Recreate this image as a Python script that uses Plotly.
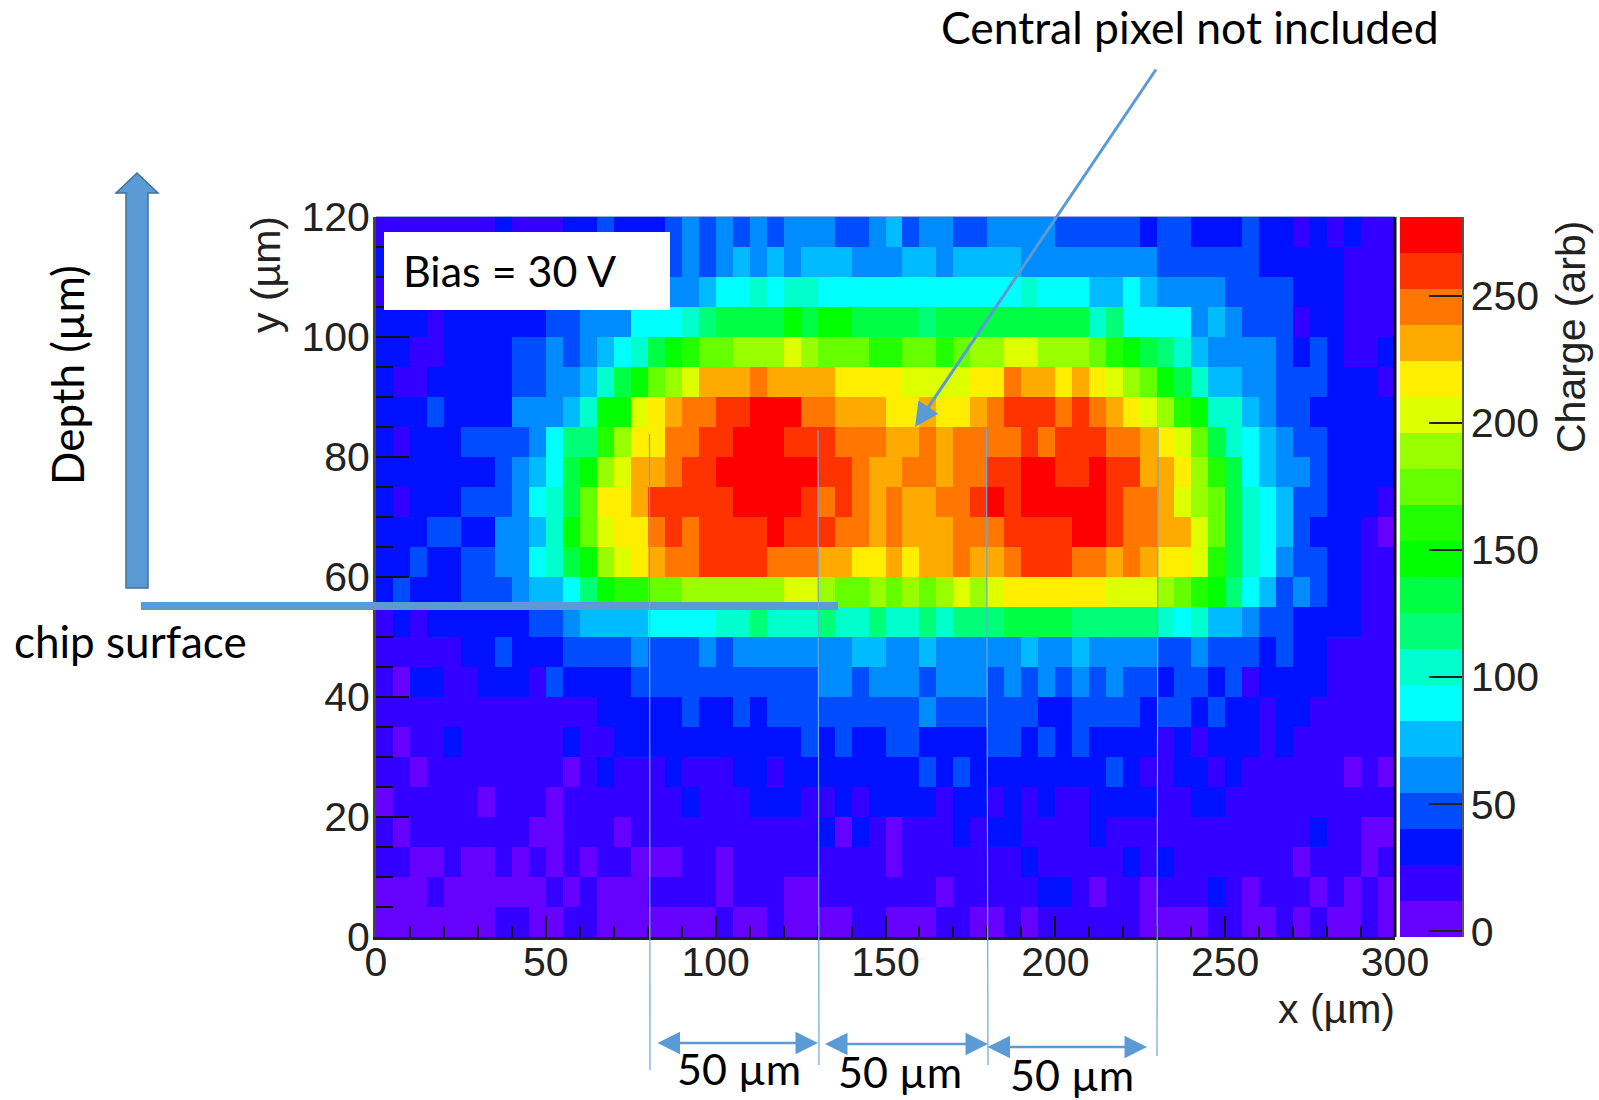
import plotly.graph_objects as go

# Colour band (0-19) of each 5 x 5 um bin. Rows are named by lower y edge, x runs 0..295.
band_y115 = [1,1,1,1,1,1,1,2,1,1,1,2,2,3,2,2,2,3,4,3,4,3,4,3,4,4,4,3,3,4, 5,3,4,4,3,3,4,4,4,4,3,3,3,3,3,2,3,3,2,2,2,3,2,2,1,2,1,2,1,1]
band_y110 = [2,2,2,2,2,2,2,2,2,2,2,3,3,3,3,3,3,3,4,3,4,5,4,5,4,5,5,5,4,4, 4,5,5,4,5,5,5,5,4,4,4,4,4,4,4,4,3,3,3,3,3,3,2,2,2,2,2,1,1,1]
band_y105 = [1,2,2,2,2,2,2,2,2,3,3,3,3,4,4,4,4,4,4,5,6,6,7,6,7,7,6,6,6,6, 6,6,6,6,6,6,6,6,7,6,6,6,5,5,6,5,4,4,4,4,3,3,3,3,2,2,2,1,1,1]
band_y100 = [2,2,2,1,2,2,2,2,2,2,3,3,4,4,4,6,6,6,7,8,9,9,9,9,10,9,10,10,9,9, 9,9,8,9,9,9,9,9,9,9,9,9,7,8,6,6,6,6,4,5,4,3,3,3,1,2,2,1,1,1]
band_y95 = [2,2,1,1,2,2,2,2,3,3,4,3,4,5,6,7,9,10,11,12,12,13,13,13,14,13,12,12,12,11, 11,12,12,11,12,13,13,14,14,13,13,13,12,11,10,9,8,7,5,4,4,4,4,3,2,3,2,1,1,2]
band_y90 = [2,1,1,2,2,2,2,2,3,3,4,4,5,7,9,10,12,13,14,16,16,16,17,16,16,16,16,15,15,15, 15,14,14,14,14,15,15,17,16,16,15,16,15,14,13,12,10,9,7,5,5,4,4,3,3,3,2,2,2,1]
band_y85 = [2,2,2,3,2,2,2,2,4,4,4,5,7,10,10,14,15,16,17,17,18,18,19,19,19,17,17,16,16,16, 15,15,16,15,15,16,17,18,18,18,17,18,17,16,15,14,13,11,10,7,7,5,4,3,3,2,2,2,2,2]
band_y80 = [2,1,2,2,2,3,3,3,3,4,6,8,8,11,13,15,15,17,17,18,18,19,19,19,18,18,18,17,17,17, 16,16,17,16,17,17,17,17,18,17,18,18,18,17,17,16,15,14,12,9,7,6,5,4,3,3,2,2,2,2]
band_y75 = [2,2,2,2,2,2,2,3,4,5,6,9,10,13,14,16,16,17,18,18,19,19,19,19,19,19,18,18,17,16, 16,17,17,16,17,17,18,18,19,19,18,18,19,18,18,16,16,15,13,11,9,6,5,4,4,3,2,2,2,2]
band_y70 = [2,1,2,2,2,3,3,3,4,6,7,9,12,15,15,16,18,18,18,18,18,19,19,19,19,18,17,18,17,16, 17,16,16,17,17,18,19,18,19,19,19,19,19,18,17,17,16,14,13,12,9,7,6,5,3,3,2,2,2,1]
band_y65 = [2,2,2,3,3,2,2,4,4,5,7,10,12,14,15,15,17,18,17,18,18,18,18,19,18,18,18,17,17,16, 17,16,16,16,17,17,17,18,18,18,18,19,19,18,17,17,16,16,14,12,9,7,6,5,3,2,2,2,1,0]
band_y60 = [2,2,3,2,2,3,3,4,4,6,7,9,10,13,14,15,16,17,17,18,18,18,18,17,17,17,16,16,15,15, 16,15,16,16,17,16,16,17,18,18,18,17,17,16,17,16,15,15,14,11,9,7,6,4,3,3,2,2,1,1]
band_y55 = [2,3,2,2,2,3,3,3,4,5,5,6,8,10,11,11,12,12,13,13,13,13,13,13,14,14,13,12,12,13, 12,13,12,13,14,13,14,15,15,15,15,15,15,14,14,14,13,12,11,10,8,6,5,3,4,3,2,2,1,1]
band_y50 = [1,2,1,2,2,2,2,2,2,3,3,4,5,5,5,5,6,6,6,6,7,7,8,7,7,7,8,7,7,8, 7,7,8,7,8,8,8,9,9,9,9,8,8,8,8,8,7,6,7,5,5,4,3,3,2,2,2,2,1,1]
band_y45 = [1,1,1,1,1,2,2,3,2,2,2,3,3,3,3,4,3,3,3,4,3,4,4,4,4,4,4,4,5,5, 4,4,5,4,4,4,4,4,5,4,4,5,4,4,4,4,3,3,4,3,3,3,2,3,2,2,1,1,1,1]
band_y40 = [1,0,2,2,1,1,2,2,2,1,3,2,2,2,2,3,3,3,3,3,3,3,3,3,3,3,4,4,3,4, 4,4,3,4,4,4,3,4,3,4,3,4,3,4,3,3,2,3,3,2,3,1,2,2,2,2,1,1,1,1]
band_y35 = [1,1,1,1,1,1,1,1,1,1,1,1,1,2,2,2,2,2,3,2,2,3,2,3,3,3,3,3,3,3, 3,3,4,3,3,3,3,3,3,2,2,3,3,3,3,2,3,3,2,3,2,2,1,2,2,1,1,1,1,1]
band_y30 = [1,0,1,1,2,1,1,1,1,1,1,2,1,1,2,2,2,2,2,2,2,2,2,2,2,3,2,3,2,2, 3,3,2,2,2,2,3,3,2,3,2,3,2,2,2,2,1,2,1,2,2,2,1,2,1,1,1,1,1,1]
band_y25 = [1,1,0,1,1,1,1,1,1,1,1,0,1,2,1,1,1,2,1,1,1,2,2,1,2,2,2,2,2,2, 2,2,3,2,3,2,2,2,2,2,2,2,2,3,2,1,1,2,2,1,2,1,1,1,1,1,1,0,1,0]
band_y20 = [0,1,1,1,1,1,0,1,1,1,0,1,1,1,1,1,1,1,2,1,1,1,2,2,2,1,1,2,1,2, 2,2,2,1,2,2,1,2,1,2,1,1,2,2,2,2,1,1,2,2,1,1,1,1,1,1,1,1,1,1]
band_y15 = [1,0,1,1,1,1,1,1,1,0,0,1,1,1,0,1,1,1,1,1,1,1,1,1,1,1,2,0,2,1, 0,1,1,1,2,1,2,2,1,1,1,1,2,1,1,1,1,1,1,1,1,1,1,1,1,2,1,1,0,0]
band_y10 = [1,1,0,0,1,0,0,1,0,1,0,1,0,1,1,0,0,0,1,1,0,1,1,1,1,1,1,1,1,1, 0,1,1,1,1,1,1,1,2,1,1,1,1,1,2,1,2,1,1,1,1,1,1,1,0,1,1,1,0,1]
band_y5 = [0,0,0,1,0,0,0,0,0,0,1,0,1,0,0,0,1,1,1,1,0,1,1,1,0,0,1,1,1,1, 1,1,1,0,1,1,1,1,1,2,2,1,0,1,1,0,1,1,1,2,1,0,1,1,1,0,1,0,1,0]
band_y0 = [0,0,0,0,0,0,0,1,1,0,0,1,1,0,0,0,0,0,0,0,1,0,0,1,0,0,0,0,1,1, 0,0,0,1,1,0,0,1,0,1,1,1,1,1,1,0,0,0,0,1,1,0,0,1,0,1,0,0,1,0]

rows_bottom_up = [band_y0, band_y5, band_y10, band_y15, band_y20, band_y25, band_y30, band_y35,
                  band_y40, band_y45, band_y50, band_y55, band_y60, band_y65, band_y70, band_y75,
                  band_y80, band_y85, band_y90, band_y95, band_y100, band_y105, band_y110, band_y115]

band_colors = ["#6600ff","#3300ff","#0011ff","#004dff","#008cff","#00bbff","#00ffff","#00ffcc","#00ff77","#00ff44",
               "#00ff00","#22ff00","#66ff00","#99ff00","#ddff00","#ffee00","#ffaa00","#ff7700","#ff3300","#ff0000"]

W, H = 1599, 1100
px = lambda v: v / W
py = lambda v: 1 - v / H
Z_MIN, Z_MAX = -2.2, 280.9
step = (Z_MAX - Z_MIN) / len(band_colors)
z = [[Z_MIN + (b + 0.5) * step for b in r] for r in rows_bottom_up]

n = len(band_colors)
colorscale = []
for i, c in enumerate(band_colors):
    colorscale += [[i / n, c], [(i + 1) / n, c]]

AXIS_FONT = dict(family="Liberation Sans", size=41, color="#222222")
NOTE_FONT = "Lato"
BLUE = "#5b9bd5"
THIN = "#6aa8dc"

fig = go.Figure(go.Heatmap(
    z=z, x0=2.5, dx=5, y0=2.5, dy=5, zmin=Z_MIN, zmax=Z_MAX, colorscale=colorscale, zsmooth=False,
    hoverongaps=False,
    colorbar=dict(
        thicknessmode="pixels", thickness=62, lenmode="pixels", len=720,
        x=px(1400), xanchor="left", y=py(217), yanchor="top", xpad=0, ypad=0,
        outlinewidth=0, tickvals=[0, 50, 100, 150, 200, 250], ticks="inside", ticklen=33,
        tickwidth=2, tickcolor="#222222", tickfont=AXIS_FONT),
))

shapes = [
    dict(type="rect", xref="paper", yref="paper", x0=px(384), x1=px(670), y0=py(232), y1=py(310),
         fillcolor="white", line_width=0, layer="above"),
    dict(type="line", xref="paper", yref="paper", x0=px(376), x1=px(1395), y0=py(216.5), y1=py(216.5),
         line=dict(color="#9fb0d8", width=1), layer="above"),
    dict(type="line", xref="paper", yref="paper", x0=px(1395), x1=px(1395), y0=py(217), y1=py(937),
         line=dict(color="#111111", width=3), layer="above"),
    dict(type="line", xref="paper", yref="paper", x0=px(1463), x1=px(1463), y0=py(217), y1=py(937),
         line=dict(color="#555555", width=2), layer="above"),
    dict(type="line", xref="paper", yref="paper", x0=px(141), x1=px(838), y0=py(606), y1=py(606),
         line=dict(color=BLUE, width=8), layer="above"),
    dict(type="path", xref="paper", yref="paper", layer="above", fillcolor=BLUE,
         line=dict(color="#41719c", width=1.5),
         path="M {} {} L {} {} L {} {} L {} {} L {} {} L {} {} L {} {} Z".format(
             px(137), py(173), px(158), py(193), px(148), py(193), px(148), py(588),
             px(126), py(588), px(126), py(193), px(116), py(193))),
]
for x0, x1, top, bottom in [(649.5, 650, 434, 1070), (818, 819, 430, 1065), (986.5, 988, 429, 1065), (1158, 1157, 427, 1056)]:
    shapes.append(dict(type="line", xref="paper", yref="paper", x0=px(x0), x1=px(x1), y0=py(top), y1=py(bottom),
                       line=dict(color=THIN, width=1.2), layer="above"))

def note(text, x, y, size, angle=0, family=NOTE_FONT, color="black"):
    return dict(text=text, x=px(x), y=py(y), xref="paper", yref="paper", showarrow=False, xanchor="center",
                yanchor="middle", textangle=angle, font=dict(family=family, size=size, color=color))

annotations = [
    note("Central pixel not included", 1190, 26, 44.5),
    note("Bias = 30 V", 509, 270, 43),
    note("Depth (µm)", 67, 375, 44, angle=-90),
    note("chip surface", 130, 641, 44),
    note("50 µm", 739, 1068, 43),
    note("50 µm", 900, 1071, 43),
    note("50 µm", 1072, 1074, 43),
    note("y (µm)", 266, 275, 41, angle=-90, family="Liberation Sans", color="#222222"),
    note("x (µm)", 1336, 1009, 41, family="Liberation Sans", color="#222222"),
    note("Charge (arb)", 1571, 337, 41, angle=-90, family="Liberation Sans", color="#222222"),
    dict(text="", x=px(915), y=py(427), xref="paper", yref="paper", ax=1157 - 915, ay=68 - 427, axref="pixel", ayref="pixel",
         showarrow=True, arrowhead=2, arrowsize=1.6, arrowwidth=3, arrowcolor=BLUE),
]
for x0, x1, yy in [(656, 818, 1043), (823.5, 988, 1044), (986, 1147, 1047)]:
    annotations.append(dict(text="", x=px(x1), y=py(yy), xref="paper", yref="paper", ax=x0 - x1, ay=0,
                            axref="pixel", ayref="pixel", showarrow=True, arrowside="end+start",
                            arrowhead=2, startarrowhead=2, arrowsize=1.8, startarrowsize=1.8, arrowwidth=2.5, arrowcolor=BLUE))

fig.update_layout(
    width=W, height=H, autosize=False, margin=dict(l=0, r=0, t=0, b=0, autoexpand=False),
    paper_bgcolor="white", plot_bgcolor="white", showlegend=False,
    shapes=shapes, annotations=annotations,
    xaxis=dict(domain=[px(376), px(1395)], range=[0, 300], dtick=50, tick0=0, ticks="inside", ticklen=21, tickwidth=2,
               tickcolor="#111111", showline=True, linecolor="#222222", linewidth=3, showgrid=False, zeroline=False,
               tickfont=AXIS_FONT, ticklabelstandoff=-13,
               minor=dict(dtick=10, tick0=0, ticks="inside", ticklen=11, tickwidth=2, tickcolor="#111111", showgrid=False)),
    yaxis=dict(domain=[py(937), py(217)], range=[0, 120], dtick=20, tick0=0, ticks="inside", ticklen=33, tickwidth=2,
               tickcolor="#111111", showline=True, linecolor="#444444", linewidth=3, showgrid=False, zeroline=False,
               tickfont=AXIS_FONT, ticklabelstandoff=-5,
               minor=dict(dtick=5, tick0=0, ticks="inside", ticklen=17, tickwidth=2, tickcolor="#111111", showgrid=False)),
)

fig.write_html("out.html", config=dict(displayModeBar=False), post_script="document.body.style.margin='0';")
